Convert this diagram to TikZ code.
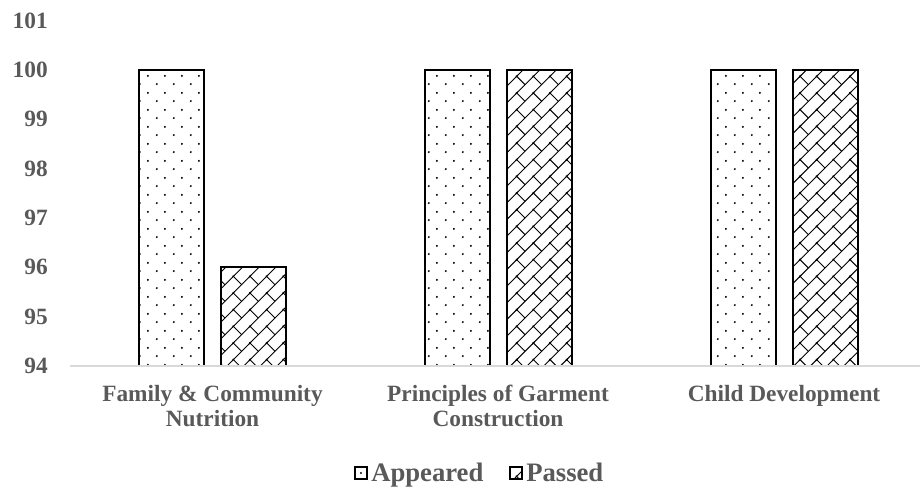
\documentclass[tikz,border=0pt]{standalone}
\usepackage{fontspec}
\setmainfont{Liberation Serif}
\usepackage{xcolor}
\usepackage{tikz}
\usetikzlibrary{patterns.meta}
\definecolor{labelgray}{HTML}{595959}
\definecolor{axisgray}{HTML}{D9D9D9}

\tikzdeclarepattern{
	name=appeareddots,
	type=uncolored,
	bottom left={(0pt,0pt)},
	top right={(12.75pt,12.5pt)},
	tile size={(12.75pt,12.5pt)},
	code={
		\fill (3pt,3pt) circle (0.85pt);
		\fill (9.375pt,9.25pt) circle (0.85pt);
	}
}
\tikzdeclarepattern{
	name=passedbrick,
	type=uncolored,
	bottom left={(-1pt,-1pt)},
	top right={(13.5pt,13.5pt)},
	tile size={(12.5pt,12.5pt)},
	code={
		\draw[line width=0.7pt] (-1pt,-1pt) -- (13.5pt,13.5pt);
		\draw[line width=0.7pt] (6.25pt,6.25pt) -- (-0.5pt,13pt);
	}
}

\tikzstyle{ticklabel} = [anchor=east,
	inner sep=0pt,
	text=labelgray,
	font=\fontsize{17.5}{18.5}\selectfont\bfseries
	]
\tikzstyle{catlabel} = [anchor=north,
	inner sep=0pt,
	align=center,
	text=labelgray,
	font=\fontsize{17.5}{18.5}\selectfont\bfseries
	]
\tikzstyle{legendlabel} = [anchor=base west,
	inner sep=0pt,
	text=labelgray,
	font=\fontsize{20}{21}\selectfont\bfseries
	]
\tikzstyle{appeared} = [draw=black,
	line width=1.5pt,
	pattern={appeareddots}, pattern color=black
	]
\tikzstyle{passed} = [draw=black,
	line width=1.5pt,
	pattern={passedbrick}, pattern color=black
	]
\tikzstyle{axisline} = [draw=axisgray,
	line width=1.5pt
	]

\begin{document}
\begin{tikzpicture}[x=0.75pt, y=-0.75pt]
    \useasboundingbox (0,0) rectangle (920,493);

    % value axis
    \node [ticklabel] (t101) at (48,21)  {101};
    \node [ticklabel] (t100) at (48,70)  {100};
    \node [ticklabel] (t99)  at (48,119) {99};
    \node [ticklabel] (t98)  at (48,169) {98};
    \node [ticklabel] (t97)  at (48,218) {97};
    \node [ticklabel] (t96)  at (48,267) {96};
    \node [ticklabel] (t95)  at (48,317) {95};
    \node [ticklabel] (t94)  at (48,366) {94};

    % bars
    \draw [appeared] (139,366) rectangle (204,70);
    \draw [passed]   (221,366) rectangle (286,267.3);
    \draw [appeared] (424.5,366) rectangle (489.5,70);
    \draw [passed]   (506.5,366) rectangle (571.5,70);
    \draw [appeared] (710.5,366) rectangle (775.5,70);
    \draw [passed]   (792.5,366) rectangle (857.5,70);

    \draw [axisline] (70,366) -- (920,366);

    % categories
    \node [catlabel] (nutrition) at (212.5,385)
    	{Family \& Community\\Nutrition};
    \node [catlabel] (garment) at (498,385)
    	{Principles of Garment\\Construction};
    \node [catlabel] (child) at (784,385) {Child Development};

    % legend
    \draw [appeared, line width=1pt] (355,467) rectangle (367,479);
    \node [legendlabel] (appearedlabel) at (371,481) {Appeared};
    \draw [passed, line width=1pt] (510,467) rectangle (522,479);
    \node [legendlabel] (passedlabel) at (526,481) {Passed};
\end{tikzpicture}
\end{document}
